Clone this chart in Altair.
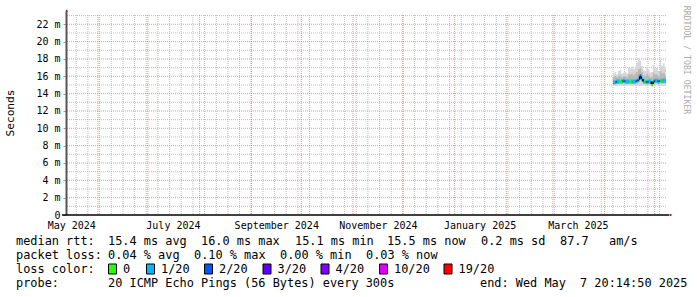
import altair as alt
import pandas as pd
from datetime import datetime, timedelta

# ---------------- data ----------------
START = "2024-05-12T20:14:50Z"
END = "2025-05-07T20:14:50Z"

LABEL_DATES = ["2024-05-16", "2024-07-16", "2024-09-16", "2024-11-16", "2025-01-16", "2025-03-16"]
MONTH_STARTS = ["2024-06-01", "2024-07-01", "2024-08-01", "2024-09-01", "2024-10-01", "2024-11-01",
                "2024-12-01", "2025-01-01", "2025-02-01", "2025-03-01", "2025-04-01", "2025-05-01"]
FIRST_SUNDAY = "2024-05-19"

Y_MAX = 23.07
Y_LABELS = [0, 2, 4, 6, 8, 10, 12, 14, 16, 18, 20, 22]
Y_MINOR = [1, 3, 5, 7, 9, 11, 13, 15, 17, 19, 21, 23]

SMOKE_DAYS = ["2025-04-06", "2025-04-07", "2025-04-08", "2025-04-09", "2025-04-10", "2025-04-11",
              "2025-04-12", "2025-04-13", "2025-04-14", "2025-04-15", "2025-04-16", "2025-04-17",
              "2025-04-18", "2025-04-19", "2025-04-20", "2025-04-21", "2025-04-22", "2025-04-23",
              "2025-04-24", "2025-04-25", "2025-04-26", "2025-04-27", "2025-04-28", "2025-04-29",
              "2025-04-30", "2025-05-01", "2025-05-02", "2025-05-03", "2025-05-04", "2025-05-05",
              "2025-05-06", "2025-05-07"]
MEDIAN_MS = [15.3, 15.3, 15.4, 15.4, 15.4, 15.4, 15.5, 15.4, 15.4, 15.4, 15.4, 15.4, 15.4, 15.4, 15.5, 15.6,
             16.0, 15.7, 15.4, 15.4, 15.3, 15.4, 15.4, 15.1, 15.4, 15.5, 15.5, 15.4, 15.5, 15.5, 15.5, 15.5]
LOSS = ["1/20", "1/20", "1/20", "1/20", "0", "1/20", "1/20", "1/20", "1/20", "1/20", "0", "1/20",
        "1/20", "1/20", "1/20", "1/20", "2/20", "1/20", "1/20", "0", "1/20", "1/20", "1/20", "0",
        "1/20", "1/20", "1/20", "1/20", "0", "1/20", "1/20", "1/20"]
SMOKE_LO = [14.95, 14.95, 14.9, 14.95, 14.95, 14.9, 14.95, 14.95, 14.9, 14.95, 14.95, 14.9, 14.95, 14.95,
            14.9, 14.95, 14.9, 14.95, 14.95, 14.9, 14.9, 14.95, 14.9, 14.7, 14.9, 14.95, 14.95, 14.9,
            14.95, 14.95, 14.9, 14.95]
SMOKE_QLO = [15.1, 15.1, 15.15, 15.15, 15.15, 15.1, 15.2, 15.15, 15.15, 15.15, 15.15, 15.15, 15.15, 15.15,
             15.2, 15.3, 15.6, 15.4, 15.15, 15.15, 15.1, 15.15, 15.15, 14.9, 15.15, 15.2, 15.2, 15.15,
             15.2, 15.2, 15.2, 15.2]
SMOKE_QHI = [15.9, 16.0, 15.9, 16.0, 16.1, 15.9, 16.0, 16.0, 15.9, 16.2, 16.2, 16.3, 16.1, 16.3,
             16.5, 16.8, 16.9, 16.5, 16.1, 16.0, 16.3, 16.1, 15.9, 15.9, 16.4, 16.2, 16.2, 16.0,
             16.6, 16.3, 16.4, 16.1]
SMOKE_HI = [16.3, 16.5, 16.2, 16.6, 16.7, 16.3, 16.4, 16.5, 16.3, 17.0, 16.9, 17.1, 16.8, 17.1,
            17.6, 18.1, 17.8, 17.2, 16.7, 16.6, 17.1, 16.8, 16.4, 16.5, 17.3, 16.9, 17.0, 16.6,
            17.9, 17.2, 17.5, 16.9]

LOSS_LABELS = ["0", "1/20", "2/20", "3/20", "4/20", "10/20", "19/20"]
LOSS_COLORS = ["#26ff00", "#00b8ff", "#0059ff", "#5e00ff", "#7e00ff", "#dd00ff", "#ff0000"]

# ---------------- helpers ----------------
MONO = "DejaVu Sans Mono"
PAD_L, PAD_T = 66, 15


def ms(s):
    if len(s) == 10:
        s = s + "T00:00:00Z"
    return int(datetime.fromisoformat(s.replace("Z", "+00:00")).timestamp() * 1000)


def iso(d):
    return d + "T00:00:00Z" if len(d) == 10 else d


# weekly (Sunday) minor grid positions
sundays = []
d = datetime.fromisoformat(FIRST_SUNDAY)
end_dt = datetime.fromisoformat("2025-05-07")
while d <= end_dt:
    sundays.append(d.strftime("%Y-%m-%d") + "T00:00:00Z")
    d += timedelta(days=7)

xs = alt.Scale(type="utc", domain=[ms(START), ms(END)])
ys = alt.Scale(domain=[0, Y_MAX], nice=False, zero=False)

xaxis = alt.Axis(values=[ms(v) for v in LABEL_DATES],
                 labelExpr="utcFormat(datum.value, '%B %Y')",
                 title=None, grid=False, ticks=False, domain=False,
                 labelFont=MONO, labelFontSize=10, labelColor="#000000",
                 labelPadding=5, labelFlush=False, labelOverlap=False)
yaxis = alt.Axis(values=Y_LABELS,
                 labelExpr="datum.value == 0 ? '0' : datum.value + ' m'",
                 title=None, grid=False, ticks=True, tickSize=3, tickColor="#E08080",
                 domain=False, labelFont=MONO, labelFontSize=10, labelColor="#000000",
                 labelPadding=3, labelFlush=False, labelOverlap=False)


def X(f="t"):
    return alt.X(f"{f}:T", scale=xs, axis=xaxis)


def Y(f):
    return alt.Y(f"{f}:Q", scale=ys, axis=yaxis)


one = pd.DataFrame({"d": [0]})

GRID_MINOR = "#A8A8A8"
GRID_MAJOR = "#E06A6A"

layers = []

# minor grid
layers.append(alt.Chart(pd.DataFrame({"t": sundays})).mark_rule(
    color=GRID_MINOR, strokeWidth=1, strokeDash=[1, 1], opacity=0.75).encode(x=X()))
layers.append(alt.Chart(pd.DataFrame({"v": Y_MINOR})).mark_rule(
    color=GRID_MINOR, strokeWidth=1, strokeDash=[1, 1], opacity=0.75).encode(y=Y("v")))
# major grid
layers.append(alt.Chart(pd.DataFrame({"t": [iso(m) for m in MONTH_STARTS]})).mark_rule(
    color=GRID_MAJOR, strokeWidth=1, strokeDash=[1, 1], opacity=0.7).encode(x=X()))
layers.append(alt.Chart(pd.DataFrame({"v": Y_LABELS[1:]})).mark_rule(
    color=GRID_MAJOR, strokeWidth=1, strokeDash=[1, 1], opacity=0.7).encode(y=Y("v")))

# smoke
smoke = pd.DataFrame({
    "t": [iso(x) for x in SMOKE_DAYS] + [END],
    "lo": SMOKE_LO + [SMOKE_LO[-1]],
    "ql": SMOKE_QLO + [SMOKE_QLO[-1]],
    "qh": SMOKE_QHI + [SMOKE_QHI[-1]],
    "hi": SMOKE_HI + [SMOKE_HI[-1]],
})
layers.append(alt.Chart(smoke).mark_area(interpolate="step-after", color="#D6D6D6").encode(
    x=X(), y=Y("lo"), y2="hi:Q"))
layers.append(alt.Chart(smoke).mark_area(interpolate="step-after", color="#B8B8B8").encode(
    x=X(), y=Y("ql"), y2="qh:Q"))

# median segments colored by loss
t_all = [iso(x) for x in SMOKE_DAYS] + [END]
seg = pd.DataFrame({
    "t": t_all[:-1], "t2": t_all[1:], "m": MEDIAN_MS, "loss": LOSS,
})
trans = pd.DataFrame({
    "t": t_all[1:-1], "m1": MEDIAN_MS[:-1], "m2": MEDIAN_MS[1:],
})
layers.append(alt.Chart(seg).mark_rule(strokeWidth=4).encode(
    x=X(), x2="t2:T", y=Y("m"),
    color=alt.Color("loss:N", scale=alt.Scale(domain=LOSS_LABELS, range=LOSS_COLORS), legend=None)))
layers.append(alt.Chart(trans).mark_rule(color="#000000", strokeWidth=1.5).encode(
    x=X(), y=Y("m1"), y2="m2:Q"))

# axes lines and arrows
layers.append(alt.Chart(one).mark_rule(color="#555555", strokeWidth=2).encode(
    x=alt.value(0.5), y=alt.value(-3), y2=alt.value(200)))
layers.append(alt.Chart(one).mark_rule(color="#000000", strokeWidth=1.5).encode(
    x=alt.value(-4), x2=alt.value(603), y=alt.value(200)))
layers.append(alt.Chart(one).mark_point(
    shape="M-0.5,0.5L0,-0.5L0.5,0.5Z", filled=True, color="#7F0000", opacity=1, size=30).encode(
    x=alt.value(0.7), y=alt.value(-4.5)))
layers.append(alt.Chart(one).mark_point(
    shape="M-0.5,-0.5L0.5,0L-0.5,0.5Z", filled=True, color="#7F0000", opacity=1, size=30).encode(
    x=alt.value(605), y=alt.value(200)))


def txt(x, y, s, size=11.9, color="#000000", angle=0, align="left"):
    return alt.Chart(one).mark_text(
        text=s, font=MONO, fontSize=size, color=color, angle=angle,
        align=align, baseline="middle").encode(
        x=alt.value(x - PAD_L), y=alt.value(y - PAD_T))


# y title and watermark
layers.append(txt(11, 113, "Seconds", size=11.2, angle=270, align="center"))
layers.append(txt(686, 60, "RRDTOOL / TOBI OETIKER", size=8.2, color="#ABABAB", angle=90, align="center"))

# legend lines
L1, L2, L3, L4 = 241, 255, 269, 283
for x, s in [(16, "median rtt:"), (108, "15.4 ms avg"), (201, "16.0 ms max"), (295, "15.1 ms min"),
             (387, "15.5 ms now"), (481, "0.2 ms sd"), (560, "87.7"), (609, "am/s")]:
    layers.append(txt(x, L1, s))
for x, s in [(16, "packet loss:"), (108, "0.04 % avg"), (194, "0.10 % max"), (280, "0.00 % min"),
             (366, "0.03 % now")]:
    layers.append(txt(x, L2, s))
layers.append(txt(16, L3, "loss color:"))
box_x = [108.5, 146.5, 204.5, 263, 321, 379.5, 444]
for bx, lab, col in zip(box_x, LOSS_LABELS, LOSS_COLORS):
    layers.append(alt.Chart(one).mark_rect(color=col, stroke="#000000", strokeWidth=1).encode(
        x=alt.value(bx - PAD_L), x2=alt.value(bx + 8 - PAD_L),
        y=alt.value(L3 - 5 - PAD_T), y2=alt.value(L3 + 5 - PAD_T)))
    layers.append(txt(bx + 14.5, L3, lab))
for x, s in [(16, "probe:"), (108, "20 ICMP Echo Pings (56 Bytes) every 300s"),
             (480, "end: Wed May"), (580, "7 20:14:50 2025")]:
    layers.append(txt(x, L4, s))

chart = alt.layer(*layers).properties(
    width=600, height=200,
    autosize=alt.AutoSizeParams(type="none"),
    padding={"left": PAD_L, "top": PAD_T, "right": 31, "bottom": 82},
    background="white",
).configure_view(stroke=None)

chart.save("out.html", embed_options={"renderer": "svg", "actions": False})
